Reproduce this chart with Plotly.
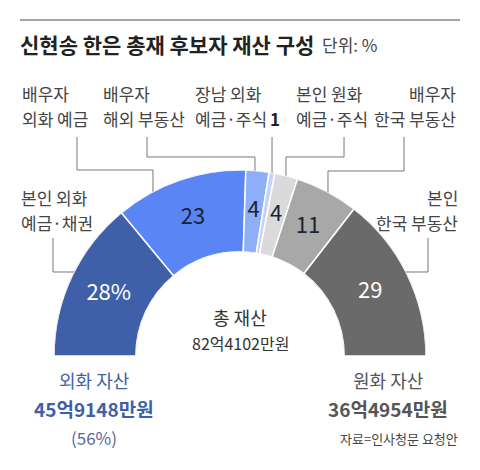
import numpy as np
import plotly.graph_objects as go

# data
categories = ["본인 외화 예금·채권", "배우자 외화 예금", "배우자 해외 부동산",
              "장남 외화 예금·주식", "본인 원화 예금·주식", "배우자 한국 부동산",
              "본인 한국 부동산"]
shares = [28, 23, 4, 1, 4, 11, 29]
total_label = "82억4102만원"
foreign_label = "45억9148만원"
foreign_share = 56
won_label = "36억4954만원"

colors = ["#3f5fa9", "#5a86f5", "#8eaef7", "#c3d4fb", "#dadada", "#a8a8a8", "#6a6a6a"]
text_colors = ["white", "#1c2333", "#1c2333", "#1c2333", "#1c2333", "#1c2333", "white"]

W, H = 480, 470
FONT = "Noto Sans CJK KR"


def px(x):
    return x / W


def py(y):
    return 1 - y / H


vals = np.array(shares, dtype=float)
deg = vals * 180 / vals.sum()
theta = np.cumsum(deg) - deg / 2

fig = go.Figure()

fig.add_trace(go.Barpolar(r=[1] * len(shares), theta=theta, width=deg, base=0,
                          marker=dict(color=colors, line=dict(color="white", width=1.5)),
                          hoverinfo="skip", showlegend=False))

inside = [f"{v}%" if i == 0 else ("" if v < 2 else str(v)) for i, v in enumerate(shares)]
fig.add_trace(go.Scatterpolar(r=[0.5] * len(shares), theta=theta, mode="text",
                              text=inside,
                              textfont=dict(size=22, color=text_colors, family=FONT),
                              hoverinfo="skip", showlegend=False))

fig.update_layout(
    width=W, height=H,
    margin=dict(l=0, r=0, t=0, b=0),
    paper_bgcolor="white",
    font=dict(family=FONT, color="#444"),
    polar=dict(
        domain=dict(x=[px(53), px(427)], y=[py(356), py(170)]),
        sector=[0, 180], hole=0.56, bgcolor="rgba(0,0,0,0)",
        radialaxis=dict(visible=False, range=[0, 1]),
        angularaxis=dict(visible=False, rotation=180, direction="clockwise"),
    ),
)

ann = []


def txt(x, y, s, size=17, color="#444", xanchor="left", bold=False):
    if bold:
        s = "<b>" + s + "</b>"
    ann.append(dict(x=px(x), y=py(y), xref="paper", yref="paper", text=s,
                    showarrow=False, xanchor=xanchor, yanchor="middle",
                    font=dict(size=size, color=color, family=FONT)))


# title
txt(18, 44, "신현송 한은 총재 후보자 재산 구성", size=21, color="#222", bold=True)
txt(320, 45, "단위: %", size=17, color="#444")

# top labels
txt(20, 94, "배우자"); txt(20, 118, "외화 예금")
txt(101, 94, "배우자"); txt(101, 118, "해외 부동산")
txt(193, 94, "장남 외화"); txt(193, 118, "예금·주식")
txt(275, 118, str(shares[3]), size=17, color="#222", xanchor="center", bold=True)
txt(294, 94, "본인 원화"); txt(294, 118, "예금·주식")
txt(458, 94, "배우자", xanchor="right"); txt(458, 118, "한국 부동산", xanchor="right")

# side labels
txt(19, 197, "본인 외화"); txt(19, 223, "예금·채권")
txt(460, 197, "본인", xanchor="right"); txt(460, 223, "한국 부동산", xanchor="right")

# center
txt(240, 317, "총 재산", size=18, color="#333", xanchor="center")
txt(240, 343, total_label, size=16, color="#333", xanchor="center")

# bottom
txt(94, 380, "외화 자산", size=18, color="#3f5fa9", xanchor="center")
txt(94, 408, foreign_label, size=19, color="#3f5fa9", xanchor="center", bold=True)
txt(94, 437, f"({foreign_share}%)", size=17, color="#56689c", xanchor="center")
txt(388, 380, "원화 자산", size=18, color="#555", xanchor="center")
txt(388, 408, won_label, size=19, color="#555", xanchor="center", bold=True)
txt(460, 438, "자료=인사청문 요청안", size=13, color="#444", xanchor="right")

fig.update_layout(annotations=ann)

# leader lines and top rule
paths = [
    [(77, 137), (77, 170), (153, 170), (153, 196)],
    [(147, 137), (147, 157), (255, 157), (255, 176)],
    [(272, 137), (272, 176)],
    [(344, 137), (344, 157), (286, 157), (286, 180)],
    [(404, 137), (404, 171), (328, 171), (328, 196)],
    [(53, 238), (53, 272), (80, 272)],
    [(428, 238), (428, 272), (400, 272)],
]
shapes = []
for p in paths:
    d = "M " + " L ".join(f"{px(x):.4f},{py(y):.4f}" for x, y in p)
    shapes.append(dict(type="path", path=d, xref="paper", yref="paper", layer="below",
                       line=dict(color="#777", width=1)))
shapes.append(dict(type="line", x0=px(20), x1=px(460), y0=py(20), y1=py(20),
                   xref="paper", yref="paper", line=dict(color="#888", width=1.5)))
fig.update_layout(shapes=shapes)

fig.write_html("out.html", config={"displayModeBar": False},
               post_script="document.body.style.margin='0px';")
